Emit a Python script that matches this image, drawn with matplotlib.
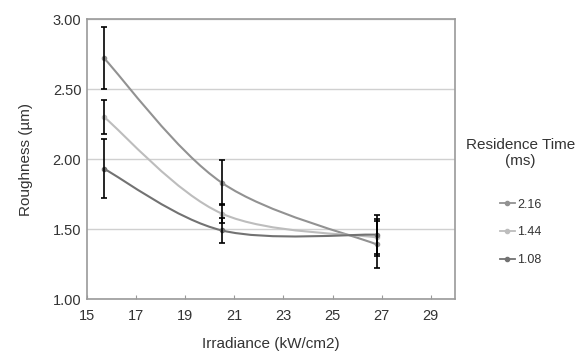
import numpy as np
import matplotlib.pyplot as plt
from matplotlib.path import Path
from matplotlib.patches import PathPatch
from matplotlib.lines import Line2D

plt.rcParams['font.family'] = ['Liberation Sans', 'DejaVu Sans']

# Data
irradiance = [15.7, 20.5, 26.8]
series_names = ['2.16', '1.44', '1.08']
rough_216 = [2.72, 1.83, 1.39]
rough_144 = [2.30, 1.61, 1.44]
rough_108 = [1.93, 1.49, 1.46]
err_216 = [0.22, 0.16, 0.17]
err_144 = [0.12, 0.07, 0.13]
err_108 = [0.21, 0.09, 0.14]

colors = ['#929292', '#bdbdbd', '#727272']


def smooth_path(x, y):
    """
    Cubic bezier path through the points (excel-style smoothed line).
    """
    pts = np.column_stack([x, y]).astype(float)
    n = len(pts)
    verts = [pts[0]]
    codes = [Path.MOVETO]
    for i in range(n - 1):
        p0 = pts[max(i - 1, 0)]
        p1 = pts[i]
        p2 = pts[i + 1]
        p3 = pts[min(i + 2, n - 1)]
        c1 = p1 + (p2 - p0) / 6.0
        c2 = p2 - (p3 - p1) / 6.0
        verts += [c1, c2, p2]
        codes += [Path.CURVE4] * 3
    return Path(verts, codes)


fig = plt.figure(figsize=(5.83, 3.59), dpi=100)
ax = fig.add_axes([0.149, 0.167, 0.632, 0.780])

all_vals = [rough_216, rough_144, rough_108]
all_errs = [err_216, err_144, err_108]

for vals, errs, col in zip(all_vals, all_errs, colors):
    patch = PathPatch(smooth_path(irradiance, vals), facecolor='none',
                      edgecolor=col, lw=1.5, zorder=3)
    ax.add_patch(patch)
    ax.plot(irradiance, vals, ls='none', marker='o', ms=3, color=col, zorder=4)
    ax.errorbar(irradiance, vals, yerr=errs, fmt='none', ecolor='black',
                elinewidth=1.2, capsize=2.5, capthick=1.2, zorder=5)

ax.set_xlim(15, 30)
ax.set_ylim(1.0, 3.0)
ax.set_xticks(range(15, 30, 2))
ax.set_yticks([1.0, 1.5, 2.0, 2.5, 3.0])
ax.set_yticklabels(['1.00', '1.50', '2.00', '2.50', '3.00'])
ax.tick_params(axis='x', direction='in', length=3, color='#999999',
               labelsize=10.5, labelcolor='#333333', pad=7)
ax.tick_params(axis='y', length=0, labelsize=10.5, labelcolor='#333333', pad=4)
ax.grid(axis='y', color='#d0d0d0', lw=1)
ax.set_axisbelow(True)
for s in ax.spines.values():
    s.set_color('#9a9a9a')
    s.set_linewidth(1.2)

ax.set_xlabel('Irradiance (kW/cm2)', fontsize=11, color='#333333', labelpad=10)
ax.set_ylabel('Roughness (\u00b5m)', fontsize=11, color='#333333', labelpad=14)

handles = [Line2D([], [], color=c, lw=1.3, marker='o', ms=3) for c in colors]
leg = fig.legend(handles, series_names, title='Residence Time\n(ms)',
                 loc='center', bbox_to_anchor=(0.893, 0.437), frameon=False,
                 fontsize=9, title_fontsize=11, handlelength=1.2,
                 handletextpad=0.2, labelspacing=1.25)
leg.get_title().set_multialignment('center')
leg.get_title().set_color('#333333')
for t in leg.get_texts():
    t.set_color('#333333')
leg._legend_box.sep = 22

fig.savefig('out.png', dpi=100)
